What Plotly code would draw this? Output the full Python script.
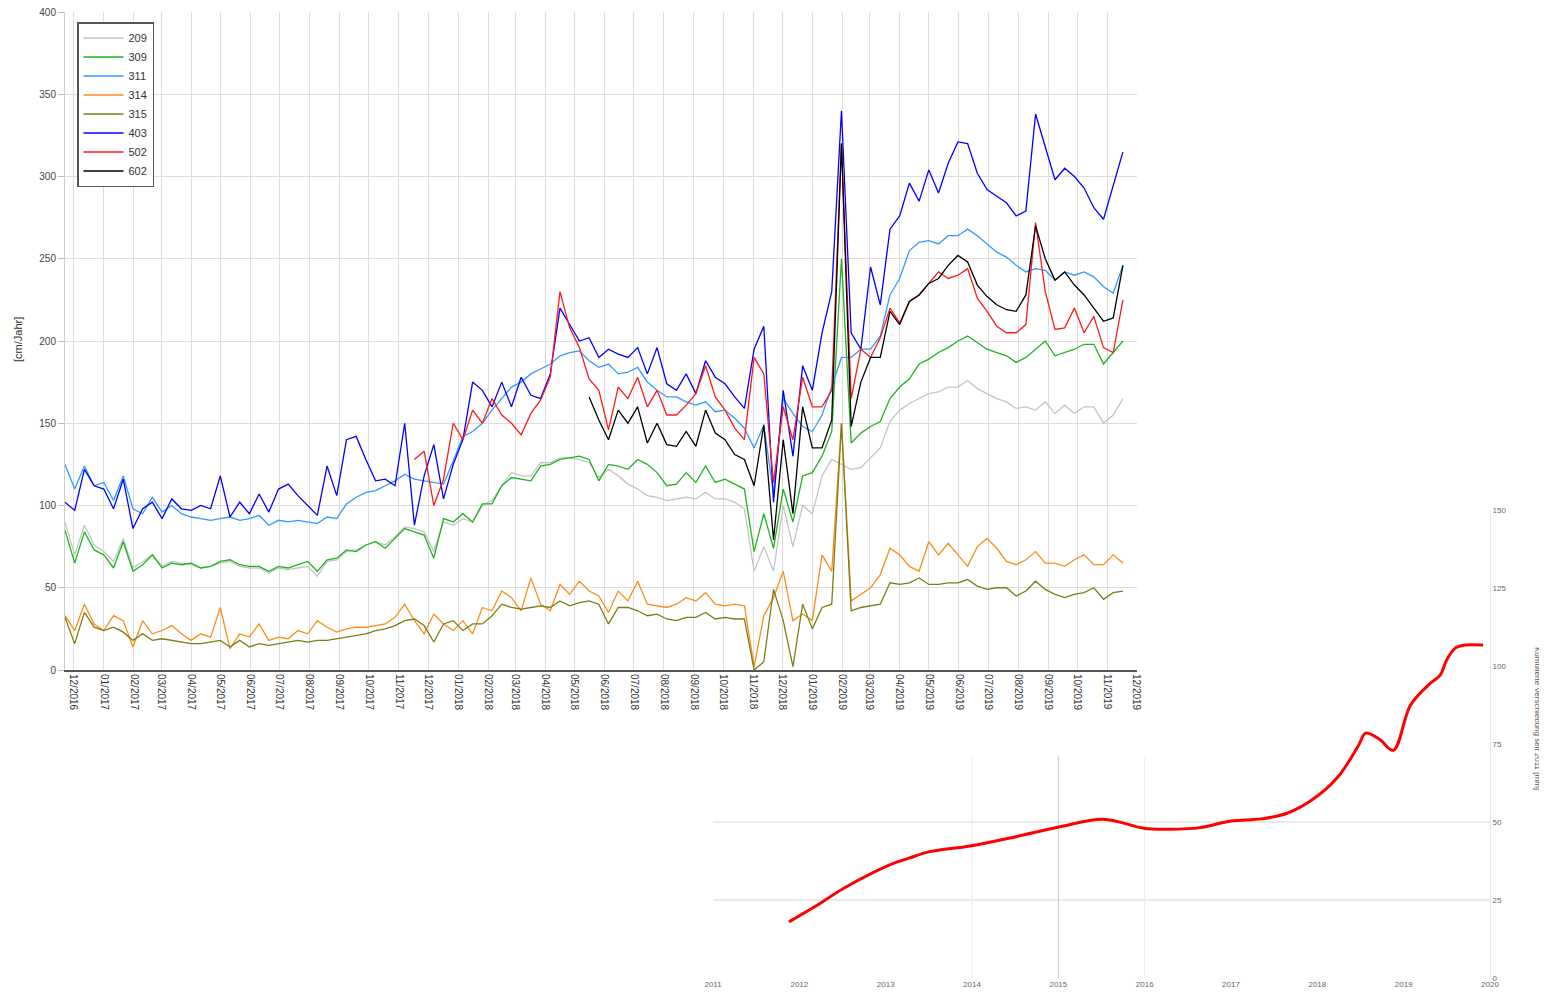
import pandas as pd
import plotly.graph_objects as go

W, H = 1547, 1006
OFF = 8  # the page body adds an 8 px margin


def px(x):
    return (x - OFF) / W


def py(y):
    return 1 - (y - OFF) / H


# main chart: rates per measuring point, sampled every 10 days
dates = pd.date_range("2016-11-22", periods=110, freq="10D")

s209 = [90, 70, 88, 76, 72, 66, 80, 62, 66, 70, 63, 66, 65, 64, 62, 63, 65, 66, 63, 62,
        62, 59, 62, 61, 62, 63, 57, 66, 67, 72, 73, 76, 78, 76, 81, 87, 86, 84,
        72, 90, 88, 92, 90, 100, 103, 112, 120, 118, 118, 126, 126, 129, 129, 128,
        126, 117, 122, 118, 113, 110, 106, 105, 103, 104, 105, 104, 108, 104, 104, 102, 98,
        60, 75, 60, 100, 75, 100, 95, 118, 128,
        125, 122, 123, 129, 135, 151, 158, 162, 165, 168, 169, 172, 172, 176, 171, 168, 165, 163, 159, 160,
        158, 163, 156, 161, 156, 160, 160, 150, 155, 165]
s309 = [85, 65, 84, 73, 70, 62, 78, 60, 64, 70, 62, 65, 64, 65, 62, 63, 66, 67, 64, 63,
        63, 60, 63, 62, 64, 66, 60, 67, 68, 73, 72, 76, 78, 74, 80, 86, 84, 82,
        68, 92, 90, 95, 90, 101, 101, 112, 117, 116, 115, 124, 125, 128, 129, 130,
        128, 115, 125, 124, 122, 128, 125, 120, 112, 113, 120, 114, 124, 114, 116, 113, 110,
        72, 95, 74, 110, 90, 118, 120, 130, 145,
        250, 138, 144, 148, 151, 165, 172, 177, 186, 189, 193, 196, 200, 203, 199, 195, 193, 191, 187, 190,
        195, 200, 191, 193, 195, 198, 198, 186, 193, 200]
s311 = [125, 110, 124, 112, 114, 103, 118, 98, 95, 105, 96, 100, 95, 93, 92, 91, 92, 93, 91, 92,
        94, 88, 91, 90, 91, 90, 89, 93, 92, 101, 105, 108, 109, 112, 115, 119, 116, 115,
        114, 113, 127, 142, 145, 150, 158, 165, 172, 175, 180, 183, 186, 191, 193, 194,
        188, 184, 186, 180, 181, 184, 175, 170, 166, 166, 163, 161, 163, 157, 158, 153, 147,
        135, 149, 107, 165, 156, 148, 145, 155, 172,
        190, 190, 195, 195, 203, 228, 238, 255, 260, 261, 259, 264, 264, 268, 264, 259, 254, 251, 246, 242,
        244, 243, 237, 242, 240, 242, 239, 233, 229, 246]
s314 = [33, 24, 40, 28, 24, 33, 30, 14, 30, 22, 24, 27, 22, 18, 22, 20, 38, 13, 22, 20,
        28, 18, 20, 19, 24, 22, 30, 26, 23, 25, 26, 26, 27, 28, 32, 40, 30, 22,
        34, 28, 24, 30, 22, 38, 36, 48, 44, 36, 56, 40, 36, 52, 46, 54,
        48, 45, 35, 48, 42, 54, 40, 39, 38, 40, 44, 42, 47, 40, 39, 40, 39,
        2, 33, 44, 60, 30, 34, 30, 70, 60,
        150, 42, 46, 50, 58, 74, 70, 63, 60, 78, 70, 77, 70, 63, 75, 80, 74, 66, 64, 67,
        72, 65, 65, 63, 67, 70, 64, 64, 70, 65]
s315 = [32, 16, 35, 26, 24, 26, 23, 18, 22, 18, 19, 18, 17, 16, 16, 17, 18, 14, 18, 14,
        16, 15, 16, 17, 18, 17, 18, 18, 19, 20, 21, 22, 24, 25, 27, 30, 31, 27,
        17, 28, 30, 24, 28, 28, 33, 40, 38, 37, 38, 39, 38, 42, 39, 41,
        42, 40, 28, 38, 38, 36, 33, 34, 31, 30, 32, 32, 35, 31, 32, 31, 31,
        0, 5, 49, 30, 2, 40, 25, 38, 40,
        150, 36, 38, 39, 40, 53, 52, 53, 56, 52, 52, 53, 53, 55, 51, 49, 50, 50, 45, 48,
        54, 49, 46, 44, 46, 47, 50, 43, 47, 48]
s403 = [102, 97, 122, 112, 110, 98, 116, 86, 98, 102, 92, 104, 98, 97, 100, 98, 118, 93, 102, 95,
        107, 96, 110, 113, 106, 100, 94, 124, 106, 140, 142, 128, 115, 116, 112, 150, 88, 118,
        137, 104, 125, 140, 175, 170, 160, 175, 160, 178, 167, 165, 180, 220, 210, 200,
        202, 190, 195, 192, 190, 196, 180, 196, 174, 170, 180, 168, 188, 178, 174, 166, 159,
        195, 209, 102, 170, 130, 185, 170, 205, 230,
        340, 205, 195, 245, 222, 268, 276, 296, 285, 304, 290, 308, 321, 320, 302, 292, 288, 284, 276, 279,
        338, 318, 298, 305, 300, 293, 281, 274, 295, 315]
s502 = [None] * 36 + [
        128, 133, 100, 116, 150, 140, 158, 150, 165, 155, 150, 143, 156, 164, 178, 230, 208, 196,
        177, 170, 146, 172, 165, 178, 160, 170, 155, 155, 161, 168, 185, 166, 158, 147, 140,
        190, 180, 114, 160, 140, 178, 160, 160, 170,
        320, 165, 195, 190, 202, 220, 211, 224, 228, 235, 242, 238, 240, 244, 226, 218, 209, 205, 205, 210,
        272, 230, 207, 208, 220, 205, 215, 196, 193, 225]
s602 = [None] * 54 + [
        166, 152, 140, 158, 150, 160, 138, 150, 137, 136, 145, 136, 158, 144, 140, 131, 128,
        112, 149, 79, 140, 95, 160, 135, 135, 152,
        320, 148, 175, 190, 190, 218, 210, 224, 228, 235, 238, 246, 252, 248, 234, 227, 222, 219, 218, 228,
        270, 250, 237, 242, 234, 228, 220, 212, 214, 246]

series = [
    ("209", s209, "#c4c4c4"),
    ("309", s309, "#1fb31f"),
    ("311", s311, "#3399ff"),
    ("314", s314, "#ff8c1a"),
    ("315", s315, "#7d7d14"),
    ("403", s403, "#0000ff"),
    ("502", s502, "#ff1a1a"),
    ("602", s602, "#000000"),
]

# second chart: long-term curve
years = [2011.88, 2012.21, 2012.51, 2013.04, 2013.27, 2013.51, 2013.98, 2014.51, 2015.02, 2015.52,
         2015.99, 2016.29, 2016.64, 2017.0, 2017.35, 2017.65, 2017.94, 2018.24, 2018.48, 2018.56,
         2018.72, 2018.88, 2019.08, 2019.31, 2019.42, 2019.5, 2019.6, 2019.71, 2019.92]
curve = [18.0, 23.4, 28.7, 36.2, 38.4, 40.5, 42.3, 45.3, 48.5, 50.9,
         48.0, 47.7, 48.2, 50.3, 51.0, 52.8, 57.1, 64.5, 74.7, 78.5,
         76.5, 73.0, 87.5, 94.5, 97.0, 102.0, 105.8, 106.7, 106.7]

fig = go.Figure()

for name, vals, color in series:
    fig.add_trace(go.Scatter(x=dates, y=vals, name=name, mode="lines",
                             line=dict(color=color, width=1.3), xaxis="x", yaxis="y"))

fig.add_trace(go.Scatter(x=years, y=curve, mode="lines", showlegend=False,
                         line=dict(color="#ff0000", width=3, shape="spline"),
                         xaxis="x2", yaxis="y2"))

# gridlines of the lower chart (only the visible part)
shapes = []
for v in [25, 50]:
    shapes.append(dict(type="line", xref="x2", yref="y2", x0=2011, x1=2020, y0=v, y1=v,
                       line=dict(color="#e4e4e4", width=1.5), layer="below"))
for yr, col in [(2014, "#ececec"), (2015, "#c8c8c8"), (2016, "#ececec")]:
    shapes.append(dict(type="line", xref="x2", yref="y2", x0=yr, x1=yr, y0=0, y1=71,
                       line=dict(color=col, width=1), layer="below"))

fig.update_layout(
    width=W, height=H, autosize=False,
    margin=dict(l=0, r=0, t=0, b=0, autoexpand=False),
    paper_bgcolor="white", plot_bgcolor="rgba(0,0,0,0)",
    font=dict(family="Liberation Sans, Arial, sans-serif", color="#333333", size=10),
    shapes=shapes,
    xaxis=dict(
        domain=[px(65), px(1137)], anchor="y", type="date",
        range=["2016-11-22", "2019-12-01 12:00"],
        tick0="2016-12-01", dtick="M1", tickformat="%m/%Y", tickangle=90,
        showgrid=True, gridcolor="#dddddd", gridwidth=1,
        showline=True, linecolor="#555555", linewidth=2,
        ticks="", tickfont=dict(size=10, color="#333333"), zeroline=False,
        automargin=False, ticklabeloverflow="allow",
    ),
    yaxis=dict(
        domain=[py(670), py(12)], anchor="x",
        range=[0, 400], dtick=50,
        showgrid=True, gridcolor="#dddddd", gridwidth=1,
        showline=True, linecolor="#cccccc", linewidth=1,
        ticks="outside", ticklen=6, tickcolor="#bbbbbb",
        tickfont=dict(size=10, color="#444444"), zeroline=False,
        automargin=False, ticklabeloverflow="allow",
    ),
    xaxis2=dict(
        domain=[px(713), px(1490)], anchor="y2",
        range=[2011, 2020], dtick=1, tickformat="d",
        showgrid=False, zeroline=False, showline=False,
        tickfont=dict(size=8, color="#666666"), automargin=False,
        ticklabeloverflow="allow",
    ),
    yaxis2=dict(
        domain=[py(978), py(510)], anchor="x2", side="right",
        range=[0, 150], dtick=25,
        showgrid=False, zeroline=False,
        showline=True, linecolor="#e6e6e6", linewidth=1,
        tickfont=dict(size=8, color="#666666"), automargin=False,
        ticklabeloverflow="allow",
    ),
    legend=dict(
        x=px(77), y=py(22), xanchor="left", yanchor="top",
        bgcolor="white", bordercolor="#555555", borderwidth=1.5,
        font=dict(size=11, color="#333333"),
        itemwidth=40, tracegroupgap=0,
    ),
    annotations=[
        dict(text="[cm/Jahr]", xref="paper", yref="paper", x=px(18), y=py(340),
             xanchor="center", yanchor="middle",
             showarrow=False, textangle=-90, font=dict(size=11, color="#333333")),
        dict(text="Kumulierte Verschiebung seit 2011 [mm]", xref="paper", yref="paper",
             x=px(1538), y=py(718), xanchor="center", yanchor="middle",
             showarrow=False, textangle=90,
             font=dict(size=8, color="#555555")),
    ],
)

fig.write_html("out.html")
